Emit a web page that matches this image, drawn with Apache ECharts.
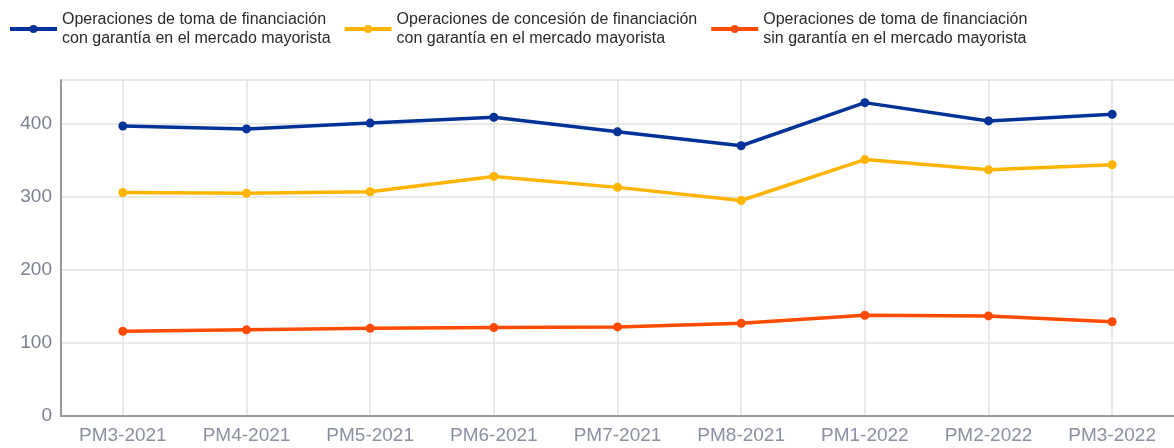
<!DOCTYPE html>
<html>
<head>
<meta charset="utf-8">
<style>
  html, body { margin: 0; padding: 0; background: #fff; }
  #chart { width: 1174px; height: 448px; }
</style>
<script src="https://cdn.jsdelivr.net/npm/echarts@6/dist/echarts.min.js"></script>
</head>
<body>
<div id="chart"></div>
<script>
// datos
const categorias = ['PM3-2021', 'PM4-2021', 'PM5-2021', 'PM6-2021', 'PM7-2021', 'PM8-2021', 'PM1-2022', 'PM2-2022', 'PM3-2022'];
const tomaConGarantia = [397, 393, 401, 409, 389, 370, 429, 404, 413];
const concesionConGarantia = [306, 305, 307, 328, 313, 295, 351, 337, 344];
const tomaSinGarantia = [116, 118, 120, 121, 122, 127, 138, 137, 129];
const nombres = [
    'Operaciones de toma de financiación\ncon garantía en el mercado mayorista',
    'Operaciones de concesión de financiación\ncon garantía en el mercado mayorista',
    'Operaciones de toma de financiación\nsin garantía en el mercado mayorista'
];
const colores = ['#003299', '#ffb400', '#ff4b00'];

const chart = echarts.init(document.getElementById('chart'));

function serie(i, data) {
    return {
        name: nombres[i],
        type: 'line',
        data: data,
        symbol: 'circle',
        symbolSize: 9,
        lineStyle: { width: 3.5, color: colores[i] },
        itemStyle: { color: colores[i] },
        animation: false
    };
}

chart.setOption({
    textStyle: { fontFamily: 'Liberation Sans, Arial, sans-serif' },
    legend: {
        left: 8,
        top: 10,
        padding: 0,
        itemGap: 12,
        itemWidth: 47,
        itemHeight: 10,
        lineStyle: { width: 4 },
        textStyle: { fontSize: 16, color: '#2a2a2a', lineHeight: 19 },
        data: nombres
    },
    grid: {
        left: 61,
        right: 0,
        top: 80,
        bottom: 32,
        containLabel: false
    },
    xAxis: {
        type: 'category',
        data: categorias,
        boundaryGap: true,
        axisLine: { lineStyle: { color: '#999', width: 2 } },
        axisTick: { show: false, alignWithLabel: true },
        axisLabel: { color: '#8a90a0', fontSize: 19, margin: 10 },
        splitLine: { show: true, alignWithLabel: true, lineStyle: { color: '#e2e2e2', width: 1.5 } }
    },
    yAxis: {
        type: 'value',
        min: 0,
        max: 460,
        interval: 100,
        axisLine: { show: true, lineStyle: { color: '#999', width: 2 } },
        axisTick: { show: false },
        axisLabel: { color: '#7a8090', fontSize: 19, margin: 9, showMaxLabel: false },
        splitLine: { lineStyle: { color: '#e2e2e2', width: 1.5 } }
    },
    series: [
        serie(0, tomaConGarantia),
        serie(1, concesionConGarantia),
        serie(2, tomaSinGarantia)
    ]
});
</script>
</body>
</html>
